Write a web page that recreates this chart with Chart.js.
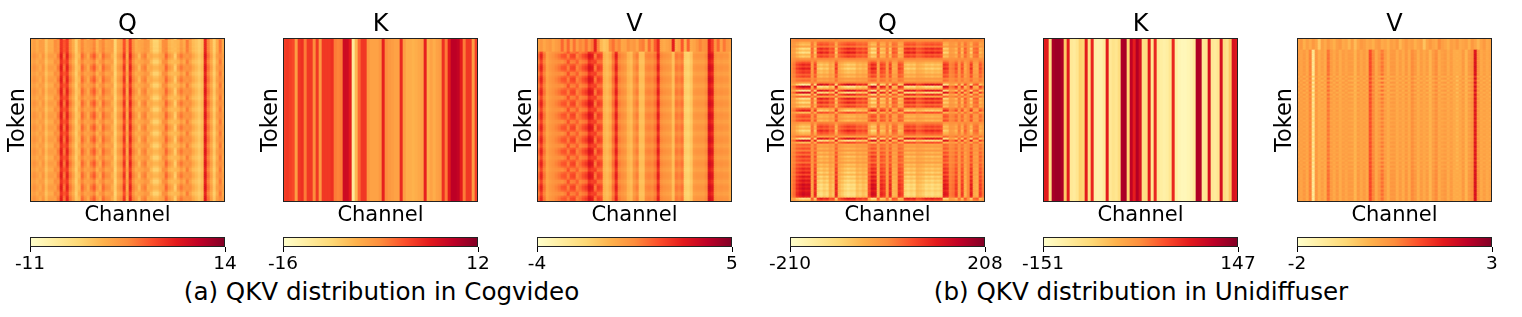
<!DOCTYPE html>
<html lang="en">
<head>
<meta charset="UTF-8">
<title>QKV distribution</title>
<script src="https://cdn.jsdelivr.net/npm/chart.js"></script>
<style>
  body { margin: 0; background: #fff; width: 1522px; height: 317px; overflow: hidden; position: relative; }
  canvas { position: absolute; filter: blur(.45px); }
  .caption { position: absolute; top: 277px; font: 24.6px "DejaVu Sans", sans-serif; color: #000; white-space: nowrap; transform: translateX(-50%); }
</style>
</head>
<body>
<div class="caption" style="left:381.5px">(a) QKV distribution in Cogvideo</div>
<div class="caption" style="left:1141px">(b) QKV distribution in Unidiffuser</div>
<script>
// values, one entry per channel (65) or per token row (82)
var qCogBase = [-.5,.5,-.5,-.5,.5,-2.5,-.5,-.5,.5,1.5, 7,3.5,6.5,2,-.5,-3.5,-1.5,2.5,.5,-.5, 1.5,3,-.5,-.5,2.5,.5,.5,-.5,-4,-.5,
  .5,5.5,-.5,6.5,1.5,-.5,-1.5,.5,1.5,-.5, -1.5,-3,-3,-1.5,.5,2.5,-.5,-1.5,-3,-.5, 1.5,0,1.5,.5,-1.5,-2.5,-3.5,-2.5,7.5,2.5, -.5,-3.5,-.5,2,-.5];
var qCogSwing = [.4,.6,.7,-.7,.6,.4,.7,.8,-1,1, 1,-1,1,.7,.7,.4,-.7,1,1,-.7, 1.2,1.4,1.4,-1,1,1.2,.8,-.7,.4,.7,
  1,1,-.7,1,.7,1,-1,1,1,-1, 1,1.4,1.4,1,-.8,1.2,1.4,1,-1,1.4, 1.4,1.2,-1,1,1,.6,.4,.4,.7,.7, .6,.4,.7,-.7,.6];
var qCogTokens = [1.6,-1,-.9,-.8,-.9,-.6,-.9,-.3,
  .7,.9,.2,-.7,-.9,.1, .8,.8,.3,-.8,-.8,.2, .6,.9,.1,-.9,-.7,.3, .8,.7,.2,-.6,-1,.2,
  .9,.8,.1,-.8,-.8,.4, .7,.9,.3,-.7,-.9,.1, .8,.8,.2,-.9,-.6,.3, .7,.9,.1,-.7,-.9,.2,
  .8,.7,.3,-.8,-.8,.1, .9,.8,.2,-.7,-.9,.3, .7,.9,.1,-.8,-.7,.2, .8,.8,.2,-.9,-.8,.3, .8,.7];

var kCogBase = [2.5,3,2.5,2,-3.5,3,3.5,-1,3,3, -2,3,-3,3,3,3,3.5,-1,-1.5,-1, 7,7,5,-12,-6,0,3,3,-3,-4,
  -4,-4,-3,4.5,-2,-3,-3.5,-4,-4,4, -3.5,-5,-5,-5.5,-5,-4.5,-4,4.5,-5,-4, -5,-4,-3.5,3.5,-1,5,8.5,8.5,8,5, -1,3,3,-3.5,2.5];

var vCogBase = [.9,2.2,.8,-.2,.1,.3,.5,.7,.9,1.1, 1.2,1.2,1.3,1,.8,1.2,1.5,2.6,2.3,1.4, 1.5,1.4,-.7,-.9,-.5,.9,2.4,.6,.3,.1,
  -.7,-.9,.2,.6,-1,-1,.4,.5,.4,.8, 2.4,.4,.2,.1,0,-1,.7,.5,.8,-1.5, -1.6,-1.2,0,.1,.1,.1,.4,3,2.6,.3, .1,.2,.1,.1,-.4];
var vCogSwing = [.3,.4,.2,.1,.1,.1,.2,.3,.6,.5, -.5,.6,.6,-.4,.3,.5,.6,.5,.5,-.6, .6,.4,.1,.1,.2,.2,.3,.2,.2,.2,
  .1,.1,.2,.2,.1,.1,.2,.2,.2,.2, .3,.2,.2,.2,.2,.1,.2,.2,.2,.1, .1,.1,.2,.2,.2,.2,.2,.3,.3,.2, .2,.2,.2,.2,.1];
var vCogHead = [-.2,.2,-.3,0,.2,-.3,0,.2,1.2,.2, 1.2,-.1,1,0,.6,.3,1,.2,.8,2.6, .6,-.8,-1.2,-1,.5,1,.2,.6,-.3,-.2,
  .4,0,.2,-.3,.6,.8,-.4,1.1,.1,1.4, 2.4,-.2,-.4,-.2,0,2.7,-.4,-.1,1.5,-.6, 1.3,-.4,-.2,.2,.7,.3,.4,2.8,2,.3, 1.2,-.1,.9,.2,0];
var vCogTokens = [0,0,0,0,0,0,0,
  -.6,.9,1,.4,-.7,-1, .2,.9,1,.5,-.8,-.9, .3,1,.9,.4,-.7,-1, .1,.8,1,.6,-.9,-.8,
  .3,.9,1,.3,-.8,-1, .2,1,.8,.5,-.7,-.9, .3,.9,1,.4,-.9,-.8, .2,.8,1,.5,-.7,-1,
  .3,1,.9,.3,-.8,-.9, .2,.9,1,.4,-.6,-1, .3,.8,.9,.5,-.8,-.9, .2,1,.9,.4,-.7,-.9, .3,.9,.6];

var qDiffBase = [-15,-5,0,-5,-4,-4,-3,0,-3,-5, -4,-3,-4,-1,-5,0,-4,-3,-5,-4, -4,-4,-3,-5,-4,-3,-1,-3,-4,-5,
  0,-2,-4,-1,-4,-5,-1,-2,-3,-4, -4,-3,-4,-5,-3,-4,-4,-4,-4,-3, -4,-1,-3,-7,-5,-1,-5,-3,-4,-5, 0,-5,-4,-1,-10];
var qDiffSwing = [20,35,90,120,140,125,130,-40,95,-100, -120,-95,-110,-55,-75,95,-60,-85,-110,-130, -115,-120,-75,-90,-70,-85,65,135,125,-55,
  95,80,-30,95,-60,-50,85,65,-105,-120, -100,-115,-65,-75,-90,-115,-105,-120,-100,-110, -95,115,105,20,30,75,-30,75,-55,5, 105,-40,-50,75,30];
var qDiffTokens = [.1,0,-.3,-.5,-.2,-.8,-.5,-.9,-.4,-.6, -.1,.1,.4,.7,.5,.8,.5,.6,.3,.5,
  .1,.25,-.1,-1.1,1.1,.5,-1,1,-.8,.3, -.9,-.4,-.8,-.3,-.6,.3,.8,-.5,.3,.45,
  .2,.5,-.1,-.3,-.6,-.4,-.8,-.5,-.3,.3, -1,1,-.5,.3,.15,.4,.1,.5,.2,.6,
  .3,.5,.2,.6,.4,.7,.5,.8,.45,.85, .6,.9,.7,1,.85,1,.8,.95,1,.8, -.9,-.4];

var kDiffBase = [72,72,-90,122,128,128,120,-62,72,-106, -110,-100,-70,-75,72,-90,64,-120,-125,-122, -110,72,-105,-95,-100,-85,118,122,-76,105,
  70,115,85,-90,-85,72,-100,64,-105,-115, -120,-115,-100,64,-115,-130,-135,-135,-130,-125, -110,118,115,-105,-100,85,-105,-110,-100,85, -85,-95,-60,85,78];

var vDiffBase = [.1,.2,.1,.15,.45,-.8,.2,.05,0,.1, .55,.1,.15,.1,.05,.1,.2,.1,.05,-.1, .1,.15,.1,.15,1,.4,.1,.15,.3,.1,
  .05,.1,.15,.05,.1,.1,.15,.05,.35,.1, .05,.1,.1,.05,-.1,.1,.3,.1,.05,.1, .1,.1,.05,-.2,.1,.15,-.1,.1,.3,1.6, .2,.1,.05,.1,0];
var vDiffSwing = [.2,-.12,.25,-.15,.2,-.5,.2,-.12,.25,-.15, .3,.2,-.15,.25,-.1,.2,-.15,.2,.25,-.1, .25,-.12,.2,-.15,.25,.2,-.1,.25,.55,.2,
  -.15,.25,.2,-.1,.2,-.15,.25,-.1,.2,.25, -.15,.2,-.1,.25,-.1,.2,.25,-.15,.2,.25, -.15,.2,-.1,.25,-.15,.2,-.1,.25,.2,.4, .25,-.12,.2,-.1,.2];
var vDiffHead = [.1,.3,-.1,.2,0,.3,.1,-.5,.2,0, .3,.1,-.1,.2,.3,0,.1,-.2,.2,-.3, .1,.3,.2,0,.1,-.1,.2,.3,0,.1,
  -.1,.2,.1,.3,-.2,.1,.3,.1,.2,-.1, .1,.2,-.4,.1,.3,.1,0,.5,.2,.1, -.1,.2,.1,.3,0,.1,.2,-.1,.3,.1, -.2,.1,.3,0,.1];
var vDiffTokens = [0,0,0,0,0,0,.7,.5,.8,.6, .9,.4,.8,.5,.9,.6,.8,.4,1,-.4, 1,-.5,1,-.4,.9,-.3,1,-.4,.9,-.2,
  .8,0,.7,.1,.6,-.1,.7,.1,.6,0, .7,-.1,.6,.1,.7,0,.6,.1,.7,-.1, .6,0,.7,.1,.8,0,.6,.1,.7,0,
  .8,-.1,.8,.1,.9,.1,.9,.5,.9,.6, 1,.5,.9,.6,1,.5,1,.6,1,.5, .9,.6];

var flatTokens = [0];
var noSwing = qCogBase.map(function() { return 0; });

var panels = [
  {left: 0, title: 'Q', min: -11, max: 14, base: qCogBase, swing: qCogSwing, tokens: qCogTokens},
  {left: 253, title: 'K', min: -16, max: 12, base: kCogBase, swing: noSwing, tokens: flatTokens},
  {left: 507, title: 'V', min: -4, max: 5, base: vCogBase, swing: vCogSwing, tokens: vCogTokens, head: vCogHead, headRows: 7},
  {left: 760, title: 'Q', min: -210, max: 208, base: qDiffBase, swing: qDiffSwing, tokens: qDiffTokens},
  {left: 1013, title: 'K', min: -151, max: 147, base: kDiffBase, swing: noSwing, tokens: flatTokens},
  {left: 1267, title: 'V', min: -2, max: 3, base: vDiffBase, swing: vDiffSwing, tokens: vDiffTokens, head: vDiffHead, headRows: 6}
];

// YlOrRd
var stops = [[255,255,204],[255,237,160],[254,217,118],[254,178,76],[253,141,60],[252,78,42],[227,26,28],[189,0,38],[128,0,38]];
function colourAt(t) {
  t = Math.min(1, Math.max(0, t)) * (stops.length - 1);
  var i = Math.min(stops.length - 2, Math.floor(t)), f = t - i;
  var c = stops[i].map(function(v, k) { return Math.round(v + (stops[i + 1][k] - v) * f); });
  return 'rgb(' + c.join(',') + ')';
}

var font = '"DejaVu Sans", sans-serif';
var framePlugin = {
  id: 'frame',
  afterDraw: function(chart) {
    var a = chart.chartArea, c = chart.ctx;
    c.save();
    c.strokeStyle = '#222';
    c.lineWidth = 1;
    c.strokeRect(a.left + .5, a.top + .5, a.right - a.left - 1, a.bottom - a.top - 1);
    c.restore();
  }
};

function addCanvas(left, top, w, h) {
  var el = document.createElement('canvas');
  el.width = w; el.height = h;
  el.style.left = left + 'px'; el.style.top = top + 'px';
  document.body.appendChild(el);
  return el;
}

panels.forEach(function(p) {
  var cells = [];
  p.tokens.forEach(function(tok, r) {
    p.base.forEach(function(b, c) {
      var v = (p.head && r < p.headRows) ? p.head[c] : b + p.swing[c] * tok;
      cells.push({x: c, y: [r, r + 1], v: v});
    });
  });

  new Chart(addCanvas(p.left, 0, 255, 232), {
    type: 'bar',
    data: {
      labels: p.base.map(function(b, i) { return i; }),
      datasets: [{
        data: cells,
        barPercentage: 1,
        categoryPercentage: 1,
        grouped: false,
        backgroundColor: function(ctx) {
          return ctx.raw ? colourAt((ctx.raw.v - p.min) / (p.max - p.min)) : '#fff';
        }
      }]
    },
    options: {
      responsive: false,
      animation: false,
      // equal side padding keeps the title over the plot, the y title sits in the left gap
      layout: {padding: {left: 30, right: 30, bottom: 4}},
      plugins: {
        legend: {display: false},
        tooltip: {enabled: false},
        title: {display: true, text: p.title, color: '#000', font: {family: font, size: 24, weight: 'normal', lineHeight: 1}, padding: {top: 12.5, bottom: 1.5}}
      },
      scales: {
        x: {
          grid: {display: false}, border: {display: false}, ticks: {display: false},
          title: {display: true, text: 'Channel', color: '#000', font: {family: font, size: 21}, padding: 0},
          afterFit: function(s) { s.height = 26; }
        },
        y: {
          type: 'linear', reverse: true, min: 0, max: p.tokens.length,
          grid: {display: false}, border: {display: false}, ticks: {display: false},
          title: {display: true, text: 'Token', color: '#000', font: {family: font, size: 22.5}, padding: {top: -25, bottom: 0}},
          afterFit: function(s) { s.width = 0; }
        }
      }
    },
    plugins: [framePlugin]
  });

  // colour bar below each panel
  new Chart(addCanvas(p.left, 226, 262, 48), {
    type: 'bar',
    data: {
      labels: [''],
      datasets: [{
        data: [[p.min, p.max]],
        barPercentage: 1,
        categoryPercentage: 1,
        backgroundColor: function(ctx) {
          var a = ctx.chart.chartArea;
          if (!a) return '#fff';
          var g = ctx.chart.ctx.createLinearGradient(a.left, 0, a.right, 0);
          stops.forEach(function(s, i) { g.addColorStop(i / (stops.length - 1), 'rgb(' + s.join(',') + ')'); });
          return g;
        }
      }]
    },
    options: {
      indexAxis: 'y',
      responsive: false,
      animation: false,
      layout: {padding: {left: 30, right: 37, top: 11}},
      plugins: {legend: {display: false}, tooltip: {enabled: false}},
      scales: {
        y: {display: false},
        x: {
          type: 'linear', min: p.min, max: p.max,
          border: {display: false},
          grid: {drawOnChartArea: false, color: '#000', tickLength: 5, tickColor: '#000'},
          afterBuildTicks: function(s) { s.ticks = [{value: p.min}, {value: p.max}]; },
          ticks: {color: '#000', padding: 1, maxRotation: 0, autoSkip: false, font: {family: font, size: 18.5}, callback: function(v) { return String(v); }},
          afterFit: function(s) { s.height = 27; }
        }
      }
    },
    plugins: [framePlugin]
  });
});
</script>
</body>
</html>
